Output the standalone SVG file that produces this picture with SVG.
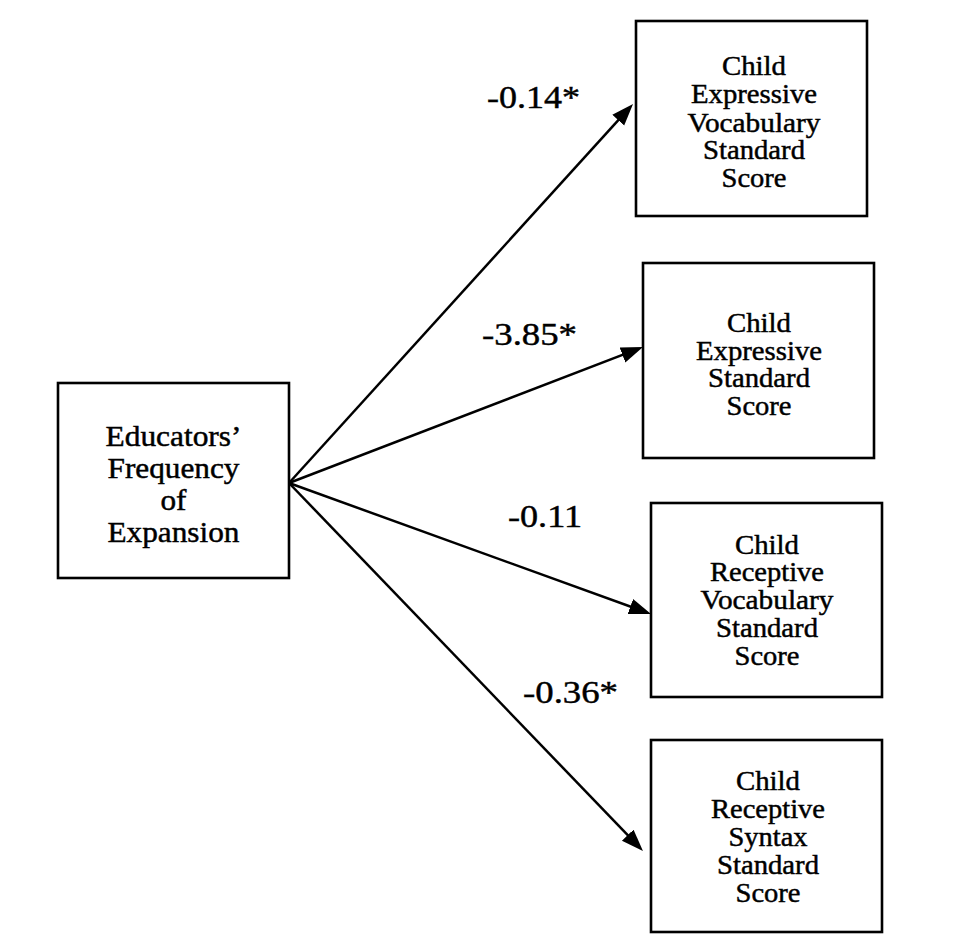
<svg xmlns="http://www.w3.org/2000/svg" width="954" height="935" viewBox="0 0 954 935">
<style>
.box{fill:#ffffff;stroke:#000000;stroke-width:2.6}
.t{font-family:"Liberation Serif","Times New Roman",serif;font-size:26.5px;fill:#000000;stroke:#000000;stroke-width:0.45;text-anchor:middle}
.tl{font-family:"Liberation Serif","Times New Roman",serif;font-size:28.5px;fill:#000000;stroke:#000000;stroke-width:0.45;text-anchor:middle}
.lbl{font-family:"Liberation Serif","Times New Roman",serif;font-size:31px;fill:#000000;stroke:#000000;stroke-width:0.45}
.edge{stroke:#000000;stroke-width:2.5;fill:none;marker-end:url(#ah)}
</style>
<defs>
<marker id="ah" markerUnits="userSpaceOnUse" markerWidth="24" markerHeight="18" refX="16" refY="9" orient="auto" viewBox="0 0 24 18">
<path d="M0,1 L22,9 L0,17 z" fill="#000000"/>
</marker>
</defs>
<rect width="954" height="935" fill="#ffffff"/>
<g id="connectors">
<line class="edge" x1="289" y1="483" x2="629" y2="108.4"/>
<line class="edge" x1="289" y1="483" x2="637.4" y2="349.2"/>
<line class="edge" x1="289" y1="483" x2="645.4" y2="612"/>
<line class="edge" x1="289" y1="483" x2="638.8" y2="846.7"/>
<text class="lbl" x="487" y="108" textLength="93" lengthAdjust="spacingAndGlyphs">-0.14*</text>
<text class="lbl" x="482" y="345" textLength="95" lengthAdjust="spacingAndGlyphs">-3.85*</text>
<text class="lbl" x="508" y="527" textLength="74" lengthAdjust="spacingAndGlyphs">-0.11</text>
<text class="lbl" x="523" y="703" textLength="95" lengthAdjust="spacingAndGlyphs">-0.36*</text>
</g>
<g id="educators">
<rect class="box" x="58" y="383" width="231" height="195"/>
<text class="tl" x="173.5" y="446" textLength="136" lengthAdjust="spacingAndGlyphs">Educators’</text>
<text class="tl" x="173.5" y="478" textLength="132" lengthAdjust="spacingAndGlyphs">Frequency</text>
<text class="tl" x="173.5" y="510" textLength="26" lengthAdjust="spacingAndGlyphs">of</text>
<text class="tl" x="173.5" y="542" textLength="132" lengthAdjust="spacingAndGlyphs">Expansion</text>
</g>
<g id="expressive-vocabulary">
<rect class="box" x="636" y="21" width="231" height="195"/>
<text class="t" x="754" y="75" textLength="64" lengthAdjust="spacingAndGlyphs">Child</text>
<text class="t" x="754" y="103" textLength="126" lengthAdjust="spacingAndGlyphs">Expressive</text>
<text class="t" x="754" y="132" textLength="133" lengthAdjust="spacingAndGlyphs">Vocabulary</text>
<text class="t" x="754" y="159" textLength="102" lengthAdjust="spacingAndGlyphs">Standard</text>
<text class="t" x="754" y="187" textLength="65" lengthAdjust="spacingAndGlyphs">Score</text>
</g>
<g id="expressive">
<rect class="box" x="643" y="263" width="231" height="195"/>
<text class="t" x="759" y="332" textLength="64" lengthAdjust="spacingAndGlyphs">Child</text>
<text class="t" x="759" y="360" textLength="126" lengthAdjust="spacingAndGlyphs">Expressive</text>
<text class="t" x="759" y="387" textLength="102" lengthAdjust="spacingAndGlyphs">Standard</text>
<text class="t" x="759" y="415" textLength="65" lengthAdjust="spacingAndGlyphs">Score</text>
</g>
<g id="receptive-vocabulary">
<rect class="box" x="651" y="503" width="231" height="194"/>
<text class="t" x="767" y="554" textLength="64" lengthAdjust="spacingAndGlyphs">Child</text>
<text class="t" x="767" y="581" textLength="114" lengthAdjust="spacingAndGlyphs">Receptive</text>
<text class="t" x="767" y="609" textLength="133" lengthAdjust="spacingAndGlyphs">Vocabulary</text>
<text class="t" x="767" y="637" textLength="102" lengthAdjust="spacingAndGlyphs">Standard</text>
<text class="t" x="767" y="665" textLength="65" lengthAdjust="spacingAndGlyphs">Score</text>
</g>
<g id="receptive-syntax">
<rect class="box" x="651" y="740" width="231" height="192"/>
<text class="t" x="768" y="790" textLength="64" lengthAdjust="spacingAndGlyphs">Child</text>
<text class="t" x="768" y="818" textLength="114" lengthAdjust="spacingAndGlyphs">Receptive</text>
<text class="t" x="768" y="846" textLength="79" lengthAdjust="spacingAndGlyphs">Syntax</text>
<text class="t" x="768" y="874" textLength="102" lengthAdjust="spacingAndGlyphs">Standard</text>
<text class="t" x="768" y="902" textLength="65" lengthAdjust="spacingAndGlyphs">Score</text>
</g>
</svg>
